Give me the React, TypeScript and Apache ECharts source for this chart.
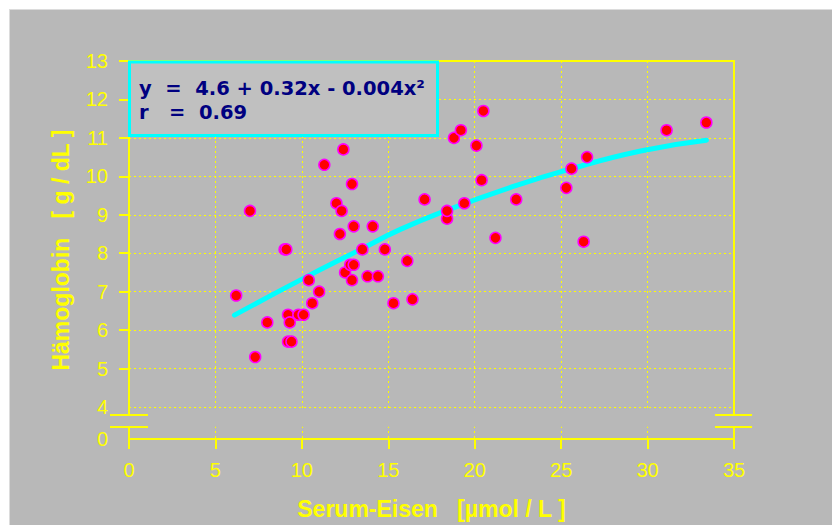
import React, { useEffect, useRef } from 'react';
import * as echarts from 'echarts';

// Serum iron [µmol/L] (x) and haemoglobin [g/dL] (y)
const serumEisen = [
  6.2, 7.0, 7.3, 8.0, 9.0, 9.1, 9.2, 9.3, 9.2, 9.4, 9.8, 10.1, 10.4, 10.6, 11.0, 11.3,
  12.0, 12.3, 12.2, 12.4, 12.5, 12.8, 13.0, 12.9, 12.9, 13.0, 13.5, 13.8, 14.1, 14.4, 14.8,
  15.3, 16.1, 16.4, 17.1, 18.4, 18.4, 18.8, 19.2, 19.4, 20.1, 20.4, 20.5, 21.2, 22.4,
  25.3, 25.6, 26.3, 26.5, 31.1, 33.4,
];
const haemoglobin = [
  6.9, 9.1, 5.3, 6.2, 8.1, 8.1, 6.4, 6.2, 5.7, 5.7, 6.4, 6.4, 7.3, 6.7, 7.0, 10.3,
  9.3, 9.1, 8.5, 10.7, 7.5, 7.7, 7.7, 7.3, 9.8, 8.7, 8.1, 7.4, 8.7, 7.4, 8.1,
  6.7, 7.8, 6.8, 9.4, 8.9, 9.1, 11.0, 11.2, 9.3, 10.8, 9.9, 11.7, 8.4, 9.4,
  9.7, 10.2, 8.3, 10.5, 11.2, 11.4,
];

// Fitted curve
const fitX = [6.1, 9.9, 13.4, 15.7, 18.4, 22.0, 25.3, 29.6, 33.4];
const fitY = [6.39, 7.3, 8.1, 8.62, 9.12, 9.7, 10.16, 10.66, 10.94];

const xTicks = [0, 5, 10, 15, 20, 25, 30, 35];
const yTicks = [4, 5, 6, 7, 8, 9, 10, 11, 12, 13];
const yBreakLabel = '0';
const Y_BREAK = 3.168; // axis position of the "0" label below the axis break

const xTitle = 'Serum-Eisen   [µmol / L ]';
const yTitle = 'Hämoglobin   [ g / dL ]';
const equationLines = ['y  =  4.6 + 0.32x - 0.004x²', 'r   =  0.69'];

const YEL = '#ffff00';
const BG = '#b8b8b8';
const FONT = '"Liberation Sans", Arial, sans-serif';

export default function App() {
  const ref = useRef<HTMLDivElement>(null);

  useEffect(() => {
    if (!ref.current) return;
    const chart = echarts.init(ref.current, undefined, { renderer: 'svg' });
    const dotted = { color: YEL, width: 1, type: [2, 3] as number[] };
    const solid = { color: YEL, width: 2 };

    chart.setOption({
      animation: false,
      backgroundColor: 'transparent',
      grid: { left: 129, right: 98, top: 61, bottom: 86, containLabel: false },
      xAxis: [
        {
          type: 'value',
          min: xTicks[0],
          max: xTicks[xTicks.length - 1],
          interval: 5,
          position: 'bottom',
          name: xTitle,
          nameLocation: 'middle',
          nameGap: 58,
          nameTextStyle: { color: YEL, fontSize: 23, fontWeight: 'bold', fontFamily: FONT },
          axisLine: { show: true, onZero: false, lineStyle: solid },
          axisTick: { show: true, inside: false, length: 10, lineStyle: solid },
          axisLabel: { color: YEL, fontSize: 20, margin: 21, fontFamily: FONT },
          splitLine: { show: true, lineStyle: dotted },
        },
        {
          type: 'value',
          min: xTicks[0],
          max: xTicks[xTicks.length - 1],
          position: 'top',
          axisLine: { show: true, onZero: false, lineStyle: solid },
          axisTick: { show: false },
          axisLabel: { show: false },
          splitLine: { show: false },
        },
      ],
      yAxis: [
        {
          type: 'value',
          min: Y_BREAK,
          max: 13,
          position: 'left',
          name: yTitle,
          nameLocation: 'middle',
          nameGap: 57,
          nameTextStyle: { color: YEL, fontSize: 23, fontWeight: 'bold', fontFamily: FONT },
          axisLine: { show: true, onZero: false, lineStyle: solid },
          axisTick: { show: true, inside: false, length: 10, lineStyle: solid, customValues: yTicks.filter((v) => v >= 5) },
          axisLabel: {
            color: YEL,
            fontSize: 20,
            margin: 21,
            fontFamily: FONT,
            customValues: [Y_BREAK, ...yTicks],
            formatter: (v: number) => (v < 3.9 ? yBreakLabel : String(v)),
          },
          splitLine: { show: false },
        },
        {
          type: 'value',
          min: Y_BREAK,
          max: 13,
          position: 'right',
          axisLine: { show: true, onZero: false, lineStyle: solid },
          axisTick: { show: false, customValues: yTicks.filter((v) => v < 13) },
          axisLabel: { show: false },
          splitLine: { show: true, lineStyle: dotted },
        },
      ],
      series: [
        {
          type: 'line',
          data: fitX.map((x, i) => [x, fitY[i]]),
          smooth: true,
          symbol: 'none',
          showSymbol: false,
          lineStyle: { color: '#00ffff', width: 5, cap: 'round' },
          z: 2,
        },
        {
          type: 'scatter',
          data: serumEisen.map((x, i) => [x, haemoglobin[i]]),
          symbol: 'circle',
          symbolSize: 11,
          itemStyle: { color: '#ff0000', borderColor: '#ff00ff', borderWidth: 1.5, opacity: 1 },
          z: 3,
        },
      ],
      graphic: [
        // break gap
        { type: 'rect', z: 50, shape: { x: 131, y: 408.5, width: 602, height: 18 }, style: { fill: BG } },
        { type: 'rect', z: 50, shape: { x: 118, y: 416, width: 630, height: 10.5 }, style: { fill: BG } },
        { type: 'line', z: 51, shape: { x1: 110, y1: 415, x2: 148, y2: 415 }, style: { stroke: YEL, lineWidth: 2 } },
        { type: 'line', z: 51, shape: { x1: 110, y1: 427, x2: 148, y2: 427 }, style: { stroke: YEL, lineWidth: 2 } },
        { type: 'line', z: 51, shape: { x1: 715, y1: 415, x2: 752, y2: 415 }, style: { stroke: YEL, lineWidth: 2 } },
        { type: 'line', z: 51, shape: { x1: 715, y1: 427, x2: 752, y2: 427 }, style: { stroke: YEL, lineWidth: 2 } },
        // equation box
        {
          type: 'rect',
          z: 60,
          shape: { x: 129.5, y: 62, width: 308, height: 73.5 },
          style: { fill: '#c0c0c0', stroke: '#00ffff', lineWidth: 3 },
        },
        {
          type: 'text',
          z: 61,
          x: 139,
          y: 88,
          style: { text: equationLines[0], fill: '#000080', font: 'bold 19.5px "DejaVu Sans"', verticalAlign: 'middle', align: 'left' },
        },
        {
          type: 'text',
          z: 61,
          x: 139,
          y: 112.5,
          style: { text: equationLines[1], fill: '#000080', font: 'bold 19.5px "DejaVu Sans"', verticalAlign: 'middle', align: 'left' },
        },
      ],
    });
    return () => chart.dispose();
  }, []);

  return (
    <div style={{ position: 'fixed', left: 0, top: 0, width: 832, height: 525, background: '#ffffff' }}>
      <div
        style={{
          position: 'absolute',
          left: 9,
          top: 9,
          right: 0,
          bottom: 0,
          background: BG,
          borderTop: '1px solid #dcdcdc',
          borderLeft: '1px solid #dcdcdc',
          boxSizing: 'border-box',
        }}
      />
      <div ref={ref} style={{ position: 'absolute', left: 0, top: 0, width: 832, height: 525 }} />
    </div>
  );
}
